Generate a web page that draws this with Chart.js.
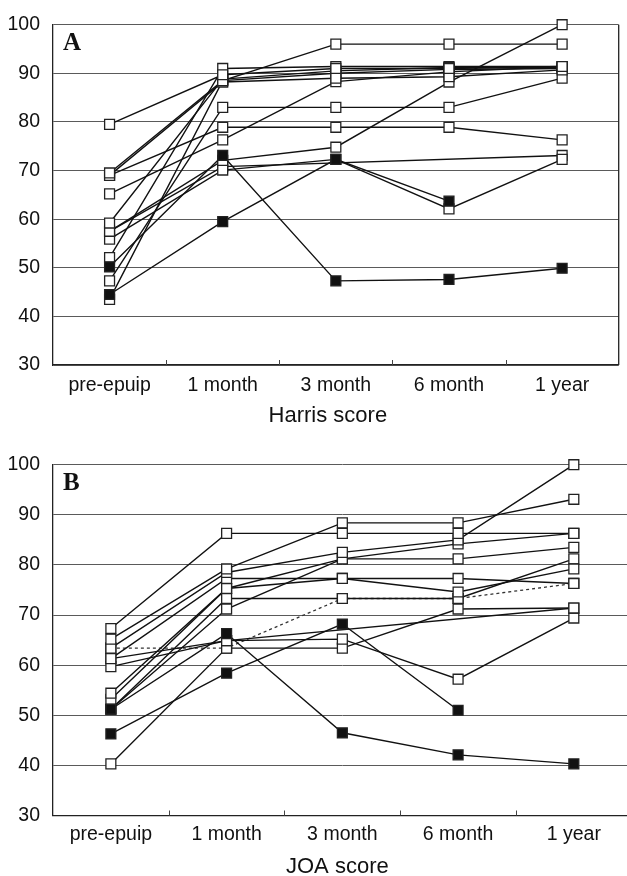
<!DOCTYPE html>
<html>
<head>
<meta charset="utf-8">
<script src="https://cdn.jsdelivr.net/npm/chart.js@4.4.1/dist/chart.umd.min.js"></script>
<style>
  html, body { margin: 0; padding: 0; background: #fff; overflow: hidden; width: 627px; height: 876px; }
  #wa { position: absolute; left: 0; top: 0; width: 627px; height: 432px; }
  #wb { position: absolute; left: 0; top: 440px; width: 640px; height: 440px; }
</style>
</head>
<body>
<div id="wa"><canvas id="ca" width="627" height="432"></canvas></div>
<div id="wb"><canvas id="cb" width="640" height="440"></canvas></div>
<script>
// ---- data ----
const categories = ['pre-epuip', '1 month', '3 month', '6 month', '1 year'];
const yTicks = [30, 40, 50, 60, 70, 80, 90, 100];
const titleA = 'Harris score';
const titleB = 'JOA score';

// Harris score, panel A (open markers)
const harris01 = [79.5, 89.7, 91.0, 91.0, 91.4];
const harris02 = [69.5, 88.5, 96.0, 96.0, 96.0];
const harris03 = [69.0, 88.2, 89.0, 89.3, 90.7];
const harris04 = [69.0, 78.9, 78.9, 78.9, 76.3];
const harris05 = [65.2, 76.3, 88.3, 90.3, 91.4];
const harris06 = [59.2, 88.8, 90.5, 91.2, 91.2];
const harris07 = [57.5, 72.1, 74.8, 88.2, 100.0];
const harris08 = [55.9, 70.1, 72.3, 62.1, 72.3];
const harris09 = [57.5, 70.8, null, null, 73.1];
const harris10 = [52.1, 91.0, 91.4, 91.4, 91.4];
const harris11 = [47.3, 83.0, 83.0, 83.0, 89.0];
const harris12 = [43.5, 88.5, 90.0, 90.8, 91.0];
// Harris score, filled markers
const harrisF1 = [50.2, 73.1, 47.3, 47.6, 49.9];
const harrisF2 = [44.5, 59.5, 72.3, 63.7, null];

// JOA score, panel B (open markers)
const joa01 = [67.3, 86.3, 86.3, 86.3, 86.3];
const joa02 = [65.2, 79.2, 88.4, 88.4, 93.1];
const joa03 = [63.4, 78.5, 82.5, 85.0, 100.0];
const joa04 = [61.3, 77.3, 77.3, 77.3, 76.3];
const joa05 = [54.4, 75.3, 81.2, 81.2, 83.5];
const joa06 = [53.2, 75.3, 77.3, 74.6, 79.2];
const joa07 = [51.2, 73.3, 73.3, 73.3, 81.2];
const joa08 = [51.2, 71.2, 81.2, 84.2, 86.3];
const joa09 = [59.7, 64.9, null, null, 71.4];
const joa10 = [61.3, 64.9, 65.2, 57.2, 69.4];
const joa11 = [40.3, 63.4, 63.4, 71.2, 71.4];
// JOA dashed series
const joaDashed = [63.4, 63.4, 73.3, 73.3, 76.3];
// JOA filled markers
const joaF1 = [51.2, 66.3, 46.5, 42.1, 40.3];
const joaF2 = [46.3, 58.4, 68.2, 51.0, null];

const harrisOpen = [harris01, harris02, harris03, harris04, harris05, harris06, harris07, harris08, harris09, harris10, harris11, harris12];
const harrisFilled = [harrisF1, harrisF2];
const joaOpen = [joa01, joa02, joa03, joa04, joa05, joa06, joa07, joa08, joa09, joa10, joa11];
const joaDash = [joaDashed];
const joaFilled = [joaF1, joaF2];

// ---- helpers ----
const FONT = "'Liberation Sans', Arial, sans-serif";

function mkDs(data, filled, dashed) {
  return {
    data: data,
    borderColor: dashed ? '#333' : '#111',
    borderWidth: dashed ? 1.3 : 1.4,
    borderDash: dashed ? [3, 3] : [],
    pointStyle: 'rect',
    pointRadius: 7,
    pointHoverRadius: 7,
    pointBorderWidth: 1.3,
    pointBorderColor: '#222',
    pointBackgroundColor: filled ? '#111' : '#fff',
    tension: 0,
    fill: false,
    spanGaps: true,
    clip: false
  };
}

function decorPlugin(cfg) {
  return {
    id: 'decor' + cfg.letter,
    afterDraw(chart) {
      const ctx = chart.ctx;
      const ca = chart.chartArea;
      const xs = chart.scales.x;
      ctx.save();
      // small inward tick marks between categories
      ctx.strokeStyle = '#444';
      ctx.lineWidth = 1;
      for (let i = 0; i < categories.length - 1; i++) {
        const x = Math.round((xs.getPixelForValue(i) + xs.getPixelForValue(i + 1)) / 2) + 0.5;
        ctx.beginPath();
        ctx.moveTo(x, ca.bottom);
        ctx.lineTo(x, ca.bottom - 5);
        ctx.stroke();
      }
      if (cfg.rightBorder) {
        ctx.strokeStyle = '#222';
        ctx.lineWidth = 1.3;
        ctx.beginPath();
        ctx.moveTo(ca.right, ca.top);
        ctx.lineTo(ca.right, ca.bottom);
        ctx.stroke();
      }
      // axis title
      ctx.fillStyle = '#111';
      ctx.font = "22px " + FONT;
      ctx.textAlign = 'center';
      ctx.textBaseline = 'middle';
      ctx.fillText(cfg.title, (ca.left + ca.right) / 2 + cfg.titleDx, ca.bottom + cfg.titleDy);
      // panel letter
      ctx.font = "bold 25px 'Liberation Serif', 'Times New Roman', serif";
      ctx.textBaseline = 'alphabetic';
      ctx.textAlign = 'left';
      ctx.fillText(cfg.letter, ca.left + 10, ca.top + 25);
      ctx.restore();
    }
  };
}

function mkChart(canvasId, datasets, cfg) {
  return new Chart(document.getElementById(canvasId), {
    type: 'line',
    data: { labels: categories, datasets: datasets },
    options: {
      responsive: false,
      animation: false,
      events: [],
      layout: { padding: { top: cfg.top, right: cfg.right, left: 0, bottom: 0 } },
      plugins: { legend: { display: false }, tooltip: { enabled: false } },
      scales: {
        x: {
          type: 'category',
          offset: true,
          grid: { display: false, drawTicks: false },
          border: { display: true, color: '#222', width: 1.3 },
          ticks: { color: '#111', font: { family: FONT, size: 19.5 }, padding: cfg.tickPad, maxRotation: 0, autoSkip: false },
          title: { display: false },
          afterFit(s) { s.height = cfg.xh; }
        },
        y: {
          min: yTicks[0],
          max: yTicks[yTicks.length - 1],
          afterBuildTicks(s) { s.ticks = yTicks.map(v => ({ value: v })); },
          grid: { color: '#5a5a5a', lineWidth: 1, drawTicks: false },
          border: { display: true, color: '#222', width: 1.3 },
          ticks: { color: '#111', font: { family: FONT, size: 19.5 }, padding: 13 },
          afterFit(s) { s.width = cfg.yw; }
        }
      }
    },
    plugins: [decorPlugin(cfg)]
  });
}

const dsA = [].concat(
  harrisFilled.map(d => mkDs(d, true, false)),
  harrisOpen.map(d => mkDs(d, false, false))
);
const dsB = [].concat(
  joaFilled.map(d => mkDs(d, true, false)),
  joaOpen.map(d => mkDs(d, false, false)),
  joaDash.map(d => mkDs(d, false, true))
);

mkChart('ca', dsA, { top: 19, right: 5, xh: 67, yw: 53, tickPad: 9, title: titleA, titleDx: -8, titleDy: 51, letter: 'A', rightBorder: true });
mkChart('cb', dsB, { top: 16, right: 7, xh: 64.5, yw: 53, tickPad: 7, title: titleB, titleDx: -5, titleDy: 51, letter: 'B', rightBorder: false });
</script>
</body>
</html>
